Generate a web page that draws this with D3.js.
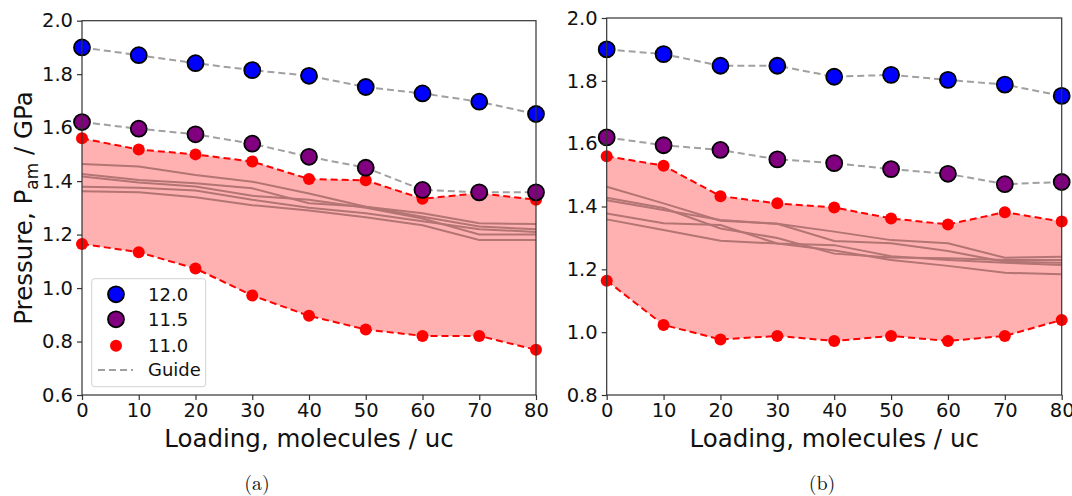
<!DOCTYPE html>
<html><head><meta charset="utf-8">
<script src="https://cdn.jsdelivr.net/npm/d3@7"></script>
<style>
html,body{margin:0;padding:0;background:#fff;}
svg{display:block;font-family:"DejaVu Sans",sans-serif;}
</style></head>
<body>
<svg id="chart" width="1072" height="496"></svg>
<script>
// ---- data ----
const loading = [0, 10, 20, 30, 40, 50, 60, 70, 80];
const yTicksA = [0.6, 0.8, 1.0, 1.2, 1.4, 1.6, 1.8, 2.0];
const yTicksB = [0.8, 1.0, 1.2, 1.4, 1.6, 1.8, 2.0];
const legendLabels = ["12.0", "11.5", "11.0", "Guide"];

// panel (a)
const a_p120 = [1.900, 1.871, 1.841, 1.815, 1.794, 1.752, 1.728, 1.697, 1.651];
const a_p115 = [1.621, 1.596, 1.575, 1.540, 1.491, 1.450, 1.367, 1.358, 1.358];
const a_p110hi = [1.560, 1.518, 1.500, 1.473, 1.408, 1.403, 1.334, 1.355, 1.330];
const a_p110lo = [1.165, 1.134, 1.073, 0.972, 0.896, 0.845, 0.821, 0.821, 0.769];
const a_runs = [
  [1.464, 1.455, 1.423, 1.398, 1.354, 1.304, 1.267, 1.230, 1.220],
  [1.427, 1.404, 1.392, 1.373, 1.317, 1.304, 1.280, 1.242, 1.240],
  [1.417, 1.395, 1.380, 1.345, 1.330, 1.300, 1.260, 1.200, 1.200],
  [1.379, 1.375, 1.365, 1.330, 1.300, 1.280, 1.250, 1.220, 1.210],
  [1.362, 1.358, 1.340, 1.310, 1.290, 1.265, 1.235, 1.180, 1.180]
];

// panel (b)
const b_p120 = [1.900, 1.885, 1.848, 1.848, 1.813, 1.819, 1.803, 1.788, 1.752];
const b_p115 = [1.620, 1.595, 1.580, 1.550, 1.538, 1.519, 1.504, 1.471, 1.478];
const b_p110hi = [1.560, 1.530, 1.433, 1.410, 1.397, 1.362, 1.343, 1.382, 1.352];
const b_p110lo = [1.164, 1.023, 0.977, 0.988, 0.972, 0.988, 0.972, 0.988, 1.039];
const b_runs = [
  [1.463, 1.410, 1.355, 1.345, 1.320, 1.293, 1.283, 1.237, 1.240],
  [1.428, 1.395, 1.330, 1.300, 1.250, 1.238, 1.235, 1.230, 1.230],
  [1.420, 1.389, 1.357, 1.345, 1.290, 1.283, 1.258, 1.224, 1.221],
  [1.378, 1.347, 1.341, 1.282, 1.277, 1.242, 1.230, 1.221, 1.214],
  [1.359, 1.325, 1.291, 1.282, 1.260, 1.230, 1.211, 1.189, 1.184]
];

const svg = d3.select("#chart");
const C = {blue:"#0000ff", purple:"#800080", red:"#ff0000", fill:"#ffb0b0",
           run:"#b37474", guide:"#a0a0a0"};

function panel(o) {
  const x = d3.scaleLinear().domain([0, 80]).range([o.x0, o.x1]);
  const y = d3.scaleLinear().domain(o.ydom).range([o.yb, o.yt]);
  const g = svg.append("g");
  const clipId = "clip" + o.id;
  svg.append("defs").append("clipPath").attr("id", clipId)
    .append("rect").attr("x", o.x0).attr("y", o.yt).attr("width", o.x1 - o.x0).attr("height", o.yb - o.yt);
  const pg = g.append("g").attr("clip-path", `url(#${clipId})`);

  const area = d3.area().x((d, i) => x(loading[i])).y0((d, i) => y(o.lo[i])).y1(d => y(d));
  pg.append("path").datum(o.hi).attr("d", area).attr("fill", C.fill);

  const line = d3.line().x((d, i) => x(loading[i])).y(d => y(d));
  o.runs.forEach(r => pg.append("path").datum(r).attr("d", line)
    .attr("fill", "none").attr("stroke", C.run).attr("stroke-width", 2));

  const mg = g.append("g");
  [o.hi, o.lo].forEach(s => {
    mg.append("path").datum(s).attr("d", line).attr("fill", "none")
      .attr("stroke", C.red).attr("stroke-width", 2).attr("stroke-dasharray", "7,4");
    mg.selectAll(null).data(s).enter().append("circle")
      .attr("cx", (d, i) => x(loading[i])).attr("cy", d => y(d)).attr("r", 6).attr("fill", C.red);
  });
  [o.p115, o.p120].forEach(s => {
    mg.append("path").datum(s).attr("d", line).attr("fill", "none")
      .attr("stroke", C.guide).attr("stroke-width", 2).attr("stroke-dasharray", "7,4");
  });
  [[o.p115, C.purple], [o.p120, C.blue]].forEach(([s, col]) => {
    mg.selectAll(null).data(s).enter().append("circle")
      .attr("cx", (d, i) => x(loading[i])).attr("cy", d => y(d)).attr("r", 8)
      .attr("fill", col).attr("stroke", "#000").attr("stroke-width", 1.8);
  });

  // frame
  g.append("rect").attr("x", o.x0).attr("y", o.yt).attr("width", o.x1 - o.x0).attr("height", o.yb - o.yt)
    .attr("fill", "none").attr("stroke", "#333").attr("stroke-width", 1.2);

  const xa = g.append("g").attr("transform", `translate(0,${o.yb})`)
    .call(d3.axisBottom(x).tickValues(loading).tickFormat(d3.format("d")).tickSize(5).tickPadding(3));
  const ya = g.append("g").attr("transform", `translate(${o.x0},0)`)
    .call(d3.axisLeft(y).tickValues(o.yticks).tickFormat(d3.format(".1f")).tickSize(5).tickPadding(4));
  [xa, ya].forEach(a => {
    a.select(".domain").remove();
    a.selectAll("line").attr("stroke", "#333").attr("stroke-width", 1.2);
    a.selectAll("text").attr("font-size", 19.5).attr("fill", "#111").attr("font-family", "DejaVu Sans");
  });

  g.append("text").attr("x", (o.x0 + o.x1) / 2).attr("y", 447).attr("text-anchor", "middle")
    .attr("font-size", 24.5).attr("fill", "#111").text("Loading, molecules / uc");
  g.append("text").attr("x", o.capX).attr("y", 490).attr("text-anchor", "middle")
    .attr("font-family", "Latin Modern Roman, DejaVu Serif, serif").attr("font-size", 20)
    .attr("fill", "#111").text(o.cap);
  return {x, y, g};
}

panel({id: "a", x0: 82, x1: 536, yt: 20.7, yb: 395, ydom: [0.6, 2.0], yticks: yTicksA,
  p120: a_p120, p115: a_p115, hi: a_p110hi, lo: a_p110lo, runs: a_runs, cap: "(a)", capX: 257});
panel({id: "b", x0: 606.7, x1: 1061.7, yt: 18, yb: 395, ydom: [0.8, 2.0], yticks: yTicksB,
  p120: b_p120, p115: b_p115, hi: b_p110hi, lo: b_p110lo, runs: b_runs, cap: "(b)", capX: 822});

// y label
const yl = svg.append("text").attr("transform", "translate(32,208) rotate(-90)")
  .attr("text-anchor", "middle").attr("font-size", 24.5).attr("fill", "#111");
yl.append("tspan").text("Pressure, P");
yl.append("tspan").attr("font-size", 17).attr("dy", 6).text("am");
yl.append("tspan").attr("dy", -6).text(" / GPa");

// legend
const lg = svg.append("g");
lg.append("rect").attr("x", 91.7).attr("y", 278.7).attr("width", 114).attr("height", 108)
  .attr("rx", 3).attr("fill", "#fff").attr("fill-opacity", 0.85).attr("stroke", "#d0d0d0");
const rows = [294.3, 319.3, 345.7, 370];
lg.append("circle").attr("cx", 116).attr("cy", rows[0]).attr("r", 8).attr("fill", C.blue).attr("stroke", "#000").attr("stroke-width", 1.8);
lg.append("circle").attr("cx", 116).attr("cy", rows[1]).attr("r", 8).attr("fill", C.purple).attr("stroke", "#000").attr("stroke-width", 1.8);
lg.append("circle").attr("cx", 116).attr("cy", rows[2]).attr("r", 6).attr("fill", C.red);
lg.append("line").attr("x1", 98).attr("x2", 133).attr("y1", rows[3]).attr("y2", rows[3])
  .attr("stroke", C.guide).attr("stroke-width", 2).attr("stroke-dasharray", "7,4");
legendLabels.forEach((t, i) => lg.append("text").attr("x", 148).attr("y", rows[i]).attr("dy", "0.36em")
  .attr("font-size", 18).attr("fill", "#111").text(t));
</script>
</body></html>
